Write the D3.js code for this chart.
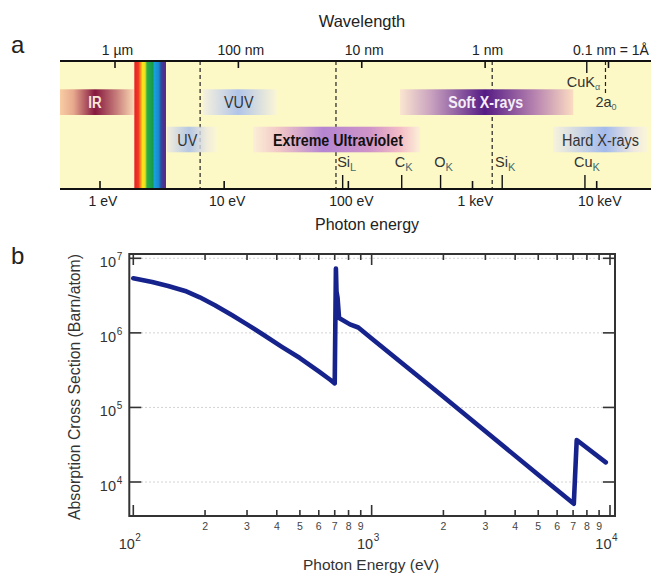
<!DOCTYPE html>
<html><head><meta charset="utf-8">
<script src="https://cdn.jsdelivr.net/npm/d3@7"></script>
<style>
body{margin:0;background:#fff}
svg{display:block;font-family:"Liberation Sans",Arial,Helvetica,sans-serif}
</style>
</head><body>
<svg id="c" width="651" height="573"></svg>
<script>
// ---------------- DATA ----------------
// Panel a: spectrum bar
const wavelengthTicks = [1000, 100, 10, 1, 0.1];            // nm
const wavelengthLabels = ["1 µm", "100 nm", "10 nm", "1 nm", "0.1 nm = 1Å"];
const energyTicks = [1, 10, 100, 1000, 10000];              // eV
const energyLabels = ["1 eV", "10 eV", "100 eV", "1 keV", "10 keV"];
const regionNames = ["IR", "UV", "VUV", "Extreme Ultraviolet", "Soft X-rays", "Hard X-rays"];
const regionLo = [0.476, 3.44, 6.71, 17.1, 260.6, 4448];      // eV
const regionHi = [1.89, 8.71, 26.5, 377.6, 6480, 25900];      // eV
const regionRow = [0, 1, 0, 1, 0, 1];
const regionLabelAt = [0.912, 5.05, 13.1, 82.5, 1277, 10740]; // eV
const visibleRange = [1.89, 3.40];                            // eV
const boundaryLinesEV = [6.4, 79.5, 1440];                    // eV
const edgeNames = ["Si", "C", "O", "Si", "Cu"];
const edgeSubs = ["L", "K", "K", "K", "K"];
const edgeEnergies = [90, 269, 553, 1734, 8040];              // eV
const cuKalphaNm = 0.15;
const twoA0Nm = 0.1058;

// Panel b: absorption cross section
const photonEnergy = [100, 120, 140, 165, 190, 220, 260, 300, 350, 420, 500, 600, 670, 700,
  708, 712, 719, 730, 811, 879, 1000, 2000, 3000, 5000, 7050, 7250, 9600];
const crossSection = [5.4e6, 4.8e6, 4.25e6, 3.65e6, 3.0e6, 2.35e6, 1.72e6, 1.3e6, 9.5e5, 6.5e5, 4.6e5,
  3.05e5, 2.35e5, 2.1e5, 7.3e6, 3.6e6, 3.0e6, 1.58e6, 1.3e6, 1.18e6, 8.4e5, 1.39e5,
  4.79e4, 1.25e4, 5.1e3, 3.66e4, 1.83e4];
const yDecades = [1e4, 1e5, 1e6, 1e7];
const yExponents = ["4", "5", "6", "7"];
const xDecades = [100, 1000, 10000];
const xExponents = ["2", "3", "4"];

// ---------------- DRAW ----------------
const svg = d3.select("#c");
const defs = svg.append("defs");

// panel a geometry
const bandL = 60, bandR = 651, bandT = 61, bandB = 189;
const xE = d3.scaleLog().domain([1, 10000]).range([100, 596.7]);
const xW = d3.scaleLog().domain([1000, 0.1]).range([115, 608.5]);
const rowY = [[89.3, 115], [126.7, 152.3]];

svg.append("text").attr("x", 11).attr("y", 53).attr("font-size", 24).attr("fill", "#222").text("a");
svg.append("text").attr("x", 11).attr("y", 264).attr("font-size", 24).attr("fill", "#222").text("b");

svg.append("rect").attr("x", bandL).attr("y", bandT).attr("width", bandR - bandL).attr("height", bandB - bandT)
  .attr("fill", "#fdf9c6");

// region gradients
const regionStops = [
  [[0, "#f8cda4"], [0.18, "#e7a98d"], [0.47, "#86183f"], [0.75, "#c47a78"], [1, "#fbd9b4"]],
  [[0, "#f1ede0"], [0.45, "#a6bcea"], [0.8, "#ece8e0"], [1, "#fbf6d6"]],
  [[0, "#f6f1e0"], [0.48, "#a9bfec"], [1, "#fbf5d8"]],
  [[0, "#fbefd6"], [0.16, "#f1c6c6"], [0.42, "#b585d2"], [0.7, "#cf94c8"], [0.88, "#f3bcc6"], [1, "#fcf0d8"]],
  [[0, "#fbe6d0"], [0.18, "#c9a2bf"], [0.49, "#551b84"], [0.78, "#b884b0"], [1, "#fbdcc2"]],
  [[0, "#f7f2de"], [0.55, "#99b3f0"], [0.85, "#ece6e4"], [1, "#fbf6d8"]]
];
const regionOpacity = [1, 0.82, 0.9, 1, 1, 0.9];
const regionTextFill = ["#f7e6d8", "#333", "#333", "#111", "#f6eef8", "#333"];
const regionTextWeight = ["bold", "normal", "normal", "bold", "bold", "normal"];
const regionTextLen = [13.4, 20, 29.5, 130, 75, 77];
const regionFont = [16, 17, 17, 17, 17, 16];

regionNames.forEach((n, i) => {
  const g = defs.append("linearGradient").attr("id", "rg" + i).attr("x1", "0").attr("x2", "1").attr("y1", "0").attr("y2", "0");
  regionStops[i].forEach(s => g.append("stop").attr("offset", s[0]).attr("stop-color", s[1]));
});
const vis = defs.append("linearGradient").attr("id", "vis").attr("x1", "0").attr("x2", "1").attr("y1", "0").attr("y2", "0");
[[0, "#e61f26"], [0.13, "#ef3a22"], [0.2, "#f6901d"], [0.26, "#fce41a"], [0.34, "#e8e020"], [0.4, "#2cae4a"],
 [0.58, "#169b49"], [0.63, "#17a2de"], [0.77, "#1c86cf"], [0.84, "#2c4c9f"], [0.92, "#4e2f91"], [1, "#5b2b8a"]]
  .forEach(s => vis.append("stop").attr("offset", s[0]).attr("stop-color", s[1]));

// dashed boundary lines (under the bands)
boundaryLinesEV.forEach(e => {
  svg.append("line").attr("x1", xE(e)).attr("x2", xE(e)).attr("y1", bandT).attr("y2", bandB)
    .attr("stroke", "#222").attr("stroke-width", 1.2).attr("stroke-dasharray", "4,3");
});
svg.append("line").attr("x1", xW(twoA0Nm)).attr("x2", xW(twoA0Nm)).attr("y1", bandT).attr("y2", 93)
  .attr("stroke", "#222").attr("stroke-width", 1.2).attr("stroke-dasharray", "4,3");

regionNames.forEach((n, i) => {
  const x0 = Math.max(bandL, xE(regionLo[i])), x1 = Math.min(bandR - 3, xE(regionHi[i]));
  const r = rowY[regionRow[i]];
  svg.append("rect").attr("x", x0).attr("y", r[0]).attr("width", x1 - x0).attr("height", r[1] - r[0])
    .attr("fill", `url(#rg${i})`).attr("fill-opacity", regionOpacity[i]);
});

// visible rainbow
svg.append("rect").attr("x", xE(visibleRange[0])).attr("y", bandT).attr("width", xE(visibleRange[1]) - xE(visibleRange[0]))
  .attr("height", bandB - bandT).attr("fill", "url(#vis)");

// region labels
regionNames.forEach((n, i) => {
  const r = rowY[regionRow[i]];
  svg.append("text").attr("x", xE(regionLabelAt[i])).attr("y", (r[0] + r[1]) / 2 + 6)
    .attr("text-anchor", "middle").attr("font-size", regionFont[i]).attr("font-weight", regionTextWeight[i])
    .attr("fill", regionTextFill[i]).attr("textLength", regionTextLen[i]).attr("lengthAdjust", "spacingAndGlyphs")
    .text(n);
});

// axis lines of band
svg.append("line").attr("x1", bandL).attr("x2", bandR).attr("y1", bandT).attr("y2", bandT).attr("stroke", "#111").attr("stroke-width", 2.2);
svg.append("line").attr("x1", bandL).attr("x2", bandR).attr("y1", bandB).attr("y2", bandB).attr("stroke", "#111").attr("stroke-width", 2.2);

// top wavelength ticks
wavelengthTicks.forEach((w, i) => {
  svg.append("line").attr("x1", xW(w)).attr("x2", xW(w)).attr("y1", bandT).attr("y2", bandT + 7).attr("stroke", "#111").attr("stroke-width", 1.6);
  svg.append("text").attr("x", xW(w) + 2.5).attr("y", 55).attr("text-anchor", "middle").attr("font-size", 14).attr("fill", "#222").text(wavelengthLabels[i]);
});
// bottom energy ticks
energyTicks.forEach((e, i) => {
  svg.append("line").attr("x1", xE(e)).attr("x2", xE(e)).attr("y1", bandB).attr("y2", bandB - 8).attr("stroke", "#111").attr("stroke-width", 1.6);
  svg.append("text").attr("x", xE(e) + 3).attr("y", 206).attr("text-anchor", "middle").attr("font-size", 14).attr("fill", "#222").text(energyLabels[i]);
});
// element edges
const edgeLabelShift = [4, 2, 3, 3, 2];
edgeEnergies.forEach((e, i) => {
  svg.append("line").attr("x1", xE(e)).attr("x2", xE(e)).attr("y1", bandB).attr("y2", bandB - 14).attr("stroke", "#111").attr("stroke-width", 1.4);
  const t = svg.append("text").attr("x", xE(e) + edgeLabelShift[i]).attr("y", 167).attr("text-anchor", "middle").attr("font-size", 14.5).attr("fill", "#333");
  t.append("tspan").text(edgeNames[i]);
  t.append("tspan").attr("dy", 4).attr("font-size", 11).attr("fill", "#456a70").text(edgeSubs[i]);
});
// CuKalpha & 2a0
svg.append("line").attr("x1", xW(cuKalphaNm)).attr("x2", xW(cuKalphaNm)).attr("y1", bandT).attr("y2", bandT + 12).attr("stroke", "#111").attr("stroke-width", 1.4);
const ck = svg.append("text").attr("x", xW(cuKalphaNm) - 20).attr("y", 87).attr("font-size", 14.5).attr("fill", "#333");
ck.append("tspan").text("CuK");
ck.append("tspan").attr("dy", 3).attr("font-size", 9).attr("fill", "#456a70").text("α");
const ta = svg.append("text").attr("x", xW(twoA0Nm) - 10).attr("y", 107).attr("font-size", 14.5).attr("fill", "#333");
ta.append("tspan").text("2a");
ta.append("tspan").attr("dy", 3).attr("font-size", 9).attr("fill", "#456a70").text("0");

// axis titles
svg.append("text").attr("x", 362).attr("y", 27).attr("text-anchor", "middle").attr("font-size", 16.5).attr("fill", "#222").text("Wavelength");
svg.append("text").attr("x", 367).attr("y", 230).attr("text-anchor", "middle").attr("font-size", 16).attr("fill", "#222").text("Photon energy");

// ---------------- panel b ----------------
const fr = { l: 129.3, r: 615, t: 254, b: 516 };
const xP = d3.scaleLog().domain([100, 10000]).range([133.3, 610]);
const yP = d3.scaleLog().domain([1e4, 1e7]).range([482, 258.3]);

// grid
yDecades.forEach(v => {
  svg.append("line").attr("x1", fr.l + 12).attr("x2", fr.r - 12).attr("y1", yP(v)).attr("y2", yP(v))
    .attr("stroke", "#c4c4c4").attr("stroke-width", 1).attr("stroke-dasharray", "1.5,2.5");
});

// curve
const pts = photonEnergy.map((e, i) => [e, crossSection[i]]);
svg.append("path").datum(pts)
  .attr("d", d3.line().x(d => xP(d[0])).y(d => yP(d[1])))
  .attr("fill", "none").attr("stroke", "#17238c").attr("stroke-width", 4.6)
  .attr("stroke-linejoin", "round").attr("stroke-linecap", "round");

// frame
svg.append("rect").attr("x", fr.l).attr("y", fr.t).attr("width", fr.r - fr.l).attr("height", fr.b - fr.t)
  .attr("fill", "none").attr("stroke", "#333").attr("stroke-width", 2);

// x ticks
xP.ticks().forEach(v => {
  const lg = Math.log10(v);
  const major = Math.abs(lg - Math.round(lg)) < 1e-9;
  const len = major ? 11 : 6;
  const x = xP(v);
  svg.append("line").attr("x1", x).attr("x2", x).attr("y1", fr.b).attr("y2", fr.b - len).attr("stroke", "#333").attr("stroke-width", 1.6);
  svg.append("line").attr("x1", x).attr("x2", x).attr("y1", fr.t).attr("y2", fr.t + len).attr("stroke", "#333").attr("stroke-width", 1.6);
  if (!major) {
    const m = Math.round(v / Math.pow(10, Math.floor(lg)));
    svg.append("text").attr("x", x).attr("y", 530).attr("text-anchor", "middle").attr("font-size", 10.5).attr("fill", "#444").text(m);
  }
});
xDecades.forEach((v, i) => {
  svg.append("text").attr("x", xP(v) + 1.5).attr("y", 549).attr("text-anchor", "end").attr("font-size", 14.5).attr("fill", "#333").text("10");
  svg.append("text").attr("x", xP(v) + 2).attr("y", 541).attr("font-size", 10).attr("fill", "#333").text(xExponents[i]);
});
// y ticks
yDecades.forEach((v, i) => {
  const y = yP(v);
  svg.append("line").attr("x1", fr.l).attr("x2", fr.l + 12).attr("y1", y).attr("y2", y).attr("stroke", "#333").attr("stroke-width", 1.6);
  svg.append("line").attr("x1", fr.r).attr("x2", fr.r - 12).attr("y1", y).attr("y2", y).attr("stroke", "#333").attr("stroke-width", 1.6);
  svg.append("text").attr("x", 116).attr("y", y + 9).attr("text-anchor", "end").attr("font-size", 14.5).attr("fill", "#333").text("10");
  svg.append("text").attr("x", 116.8).attr("y", y + 2).attr("font-size", 10).attr("fill", "#333").text(yExponents[i]);
});

// axis titles
svg.append("text").attr("x", 371).attr("y", 570).attr("text-anchor", "middle").attr("font-size", 15.5).attr("fill", "#333").text("Photon Energy (eV)");
svg.append("text").attr("transform", "translate(80,387) rotate(-90)").attr("text-anchor", "middle")
  .attr("font-size", 15.8).attr("fill", "#333").text("Absorption Cross Section (Barn/atom)");
</script>
</body></html>
